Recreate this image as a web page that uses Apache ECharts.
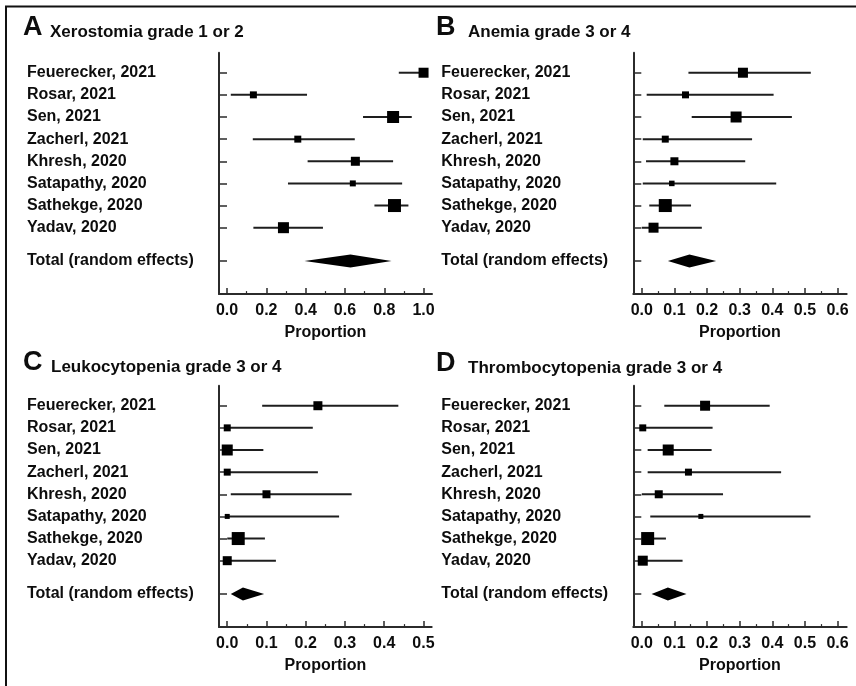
<!DOCTYPE html>
<html>
<head>
<meta charset="utf-8">
<script src="https://cdn.jsdelivr.net/npm/echarts@6/dist/echarts.min.js"></script>
<style>
html,body{margin:0;padding:0;background:#fff;}
#chart{width:856px;height:686px;}
</style>
</head>
<body>
<div id="chart"></div>
<script>
// ---- data ----
const studies = ["Feuerecker, 2021","Rosar, 2021","Sen, 2021","Zacherl, 2021","Khresh, 2020","Satapathy, 2020","Sathekge, 2020","Yadav, 2020"];
const totalLabel = "Total (random effects)";

const panelLetters = ["A","B","C","D"];
const panelTitles = ["Xerostomia grade 1 or 2","Anemia grade 3 or 4","Leukocytopenia grade 3 or 4","Thrombocytopenia grade 3 or 4"];

// A: Xerostomia grade 1 or 2
const xeroEst = [1.0, 0.134, 0.845, 0.36, 0.653, 0.64, 0.852, 0.287];
const xeroLo  = [0.874, 0.019, 0.692, 0.131, 0.41, 0.31, 0.75, 0.134];
const xeroHi  = [1.0, 0.407, 0.94, 0.65, 0.845, 0.891, 0.923, 0.488];
const xeroWeight = [14.8, 7.2, 21.3, 7.2, 12.0, 5.3, 25.0, 17.9];
const xeroTotal = [0.628, 0.394, 0.837];

// B: Anemia grade 3 or 4
const anemEst = [0.31, 0.134, 0.289, 0.072, 0.1, 0.092, 0.072, 0.036];
const anemLo  = [0.143, 0.015, 0.153, 0.003, 0.013, 0.003, 0.023, 0.0];
const anemHi  = [0.518, 0.404, 0.46, 0.338, 0.317, 0.412, 0.151, 0.184];
const anemWeight = [14.8, 7.2, 17.9, 7.2, 9.5, 4.5, 25.0, 14.8];
const anemTotal = [0.146, 0.08, 0.228];

// C: Leukocytopenia grade 3 or 4
const leukEst = [0.231, 0.0, 0.0, 0.0, 0.1, 0.0, 0.028, 0.0];
const leukLo  = [0.089, 0.0, 0.0, 0.0, 0.009, 0.0, 0.0, 0.0];
const leukHi  = [0.436, 0.218, 0.092, 0.231, 0.317, 0.285, 0.096, 0.124];
const leukWeight = [12.0, 7.2, 17.9, 7.2, 9.5, 3.7, 25.0, 12.0];
const leukTotal = [0.04, 0.009, 0.094];

// D: Thrombocytopenia grade 3 or 4
const thromEst = [0.194, 0.003, 0.081, 0.143, 0.052, 0.181, 0.018, 0.003];
const thromLo  = [0.069, 0.0, 0.018, 0.018, 0.0, 0.026, 0.0, 0.0];
const thromHi  = [0.392, 0.217, 0.214, 0.427, 0.249, 0.517, 0.074, 0.125];
const thromWeight = [14.8, 7.2, 17.9, 7.2, 9.5, 3.7, 25.0, 14.8];
const thromTotal = [0.08, 0.03, 0.137];

// tick labels
const ticksA = [0.0, 0.2, 0.4, 0.6, 0.8, 1.0];
const minorA = [0.1, 0.3, 0.5, 0.7, 0.9];
const ticksBD = [0.0, 0.1, 0.2, 0.3, 0.4, 0.5, 0.6];
const minorBD = [0.05, 0.15, 0.25, 0.35, 0.45, 0.55];
const ticksC = [0.0, 0.1, 0.2, 0.3, 0.4, 0.5];
const minorC = [0.05, 0.15, 0.25, 0.35, 0.45];

const rowValues = [0, 1, 2, 3, 4, 5, 6, 7, 8.5];

// ---- layout ----
const FONT = "'Liberation Sans', Arial, sans-serif";
const panels = [
  {est: xeroEst, lo: xeroLo, hi: xeroHi, w: xeroWeight, total: xeroTotal, ticks: ticksA, minor: minorA, min: -0.041, max: 1.043,
   grid: {left: 219, top: 52.8, width: 213, height: 241.3}},
  {est: anemEst, lo: anemLo, hi: anemHi, w: anemWeight, total: anemTotal, ticks: ticksBD, minor: minorBD, min: -0.026, max: 0.628,
   grid: {left: 633.3, top: 52.8, width: 213.4, height: 241.3}},
  {est: leukEst, lo: leukLo, hi: leukHi, w: leukWeight, total: leukTotal, ticks: ticksC, minor: minorC, min: -0.021, max: 0.521,
   grid: {left: 219, top: 385.8, width: 212.7, height: 241.3}},
  {est: thromEst, lo: thromLo, hi: thromHi, w: thromWeight, total: thromTotal, ticks: ticksBD, minor: minorBD, min: -0.026, max: 0.628,
   grid: {left: 633.3, top: 385.8, width: 213.4, height: 241.3}}
];

const grids = [], xAxes = [], yAxes = [], series = [];
const AXIS_COLOR = '#2b2b2b';

panels.forEach((p, i) => {
  grids.push(Object.assign({containLabel: false}, p.grid));
  // main x axis
  xAxes.push({
    type: 'value', gridIndex: i, min: p.min, max: p.max, position: 'bottom',
    axisLine: {show: true, onZero: false, lineStyle: {color: AXIS_COLOR, width: 2}},
    axisTick: {show: true, inside: true, length: 6, customValues: p.ticks, lineStyle: {color: AXIS_COLOR, width: 1.5}},
    axisLabel: {show: true, customValues: p.ticks, margin: 8, formatter: v => v.toFixed(1),
      fontFamily: FONT, fontWeight: 'bold', fontSize: 16, color: '#0d0d0d'},
    splitLine: {show: false},
    name: 'Proportion', nameLocation: 'middle', nameGap: 30,
    nameTextStyle: {fontFamily: FONT, fontWeight: 'bold', fontSize: 16, color: '#0d0d0d'}
  });
  // minor ticks axis
  xAxes.push({
    type: 'value', gridIndex: i, min: p.min, max: p.max, position: 'bottom',
    axisLine: {show: false, onZero: false},
    axisTick: {show: true, inside: true, length: 3, customValues: p.minor, lineStyle: {color: AXIS_COLOR, width: 1.2}},
    axisLabel: {show: false},
    splitLine: {show: false}
  });
  yAxes.push({
    type: 'value', gridIndex: i, inverse: true, min: -0.9, max: 10,
    axisLine: {show: true, onZero: false, lineStyle: {color: AXIS_COLOR, width: 2}},
    axisTick: {show: true, inside: true, length: 8, customValues: rowValues, lineStyle: {color: AXIS_COLOR, width: 1.5}},
    axisLabel: {show: true, customValues: rowValues, align: 'left', margin: 192,
      formatter: v => (v === 8.5 ? totalLabel : studies[Math.round(v)]),
      fontFamily: FONT, fontWeight: 'bold', fontSize: 16, color: '#0d0d0d'},
    splitLine: {show: false}
  });

  const studyData = studies.map((s, k) => [k, p.est[k], p.lo[k], p.hi[k], p.w[k]]);
  series.push({
    type: 'custom', xAxisIndex: 2 * i, yAxisIndex: i,
    encode: {x: 1, y: 0},
    data: studyData,
    clip: false,
    renderItem: function (params, api) {
      const row = api.value(0);
      const c = api.coord([api.value(1), row]);
      const lo = api.coord([api.value(2), row]);
      const hi = api.coord([api.value(3), row]);
      const s = 2.6 * Math.sqrt(api.value(4));
      return {
        type: 'group',
        children: [
          {type: 'line', shape: {x1: lo[0], y1: lo[1], x2: hi[0], y2: hi[1]},
           style: {stroke: '#1e1e1e', lineWidth: 2}},
          {type: 'rect', shape: {x: c[0] - s / 2, y: c[1] - s / 2, width: s, height: s},
           style: {fill: '#000'}}
        ]
      };
    }
  });
  series.push({
    type: 'custom', xAxisIndex: 2 * i, yAxisIndex: i,
    encode: {x: 1, y: 0},
    data: [[8.5, p.total[0], p.total[1], p.total[2]]],
    clip: false,
    renderItem: function (params, api) {
      const row = api.value(0);
      const c = api.coord([api.value(1), row]);
      const lo = api.coord([api.value(2), row]);
      const hi = api.coord([api.value(3), row]);
      const h = 6.5;
      return {
        type: 'polygon',
        shape: {points: [[lo[0], lo[1]], [c[0], c[1] - h], [hi[0], hi[1]], [c[0], c[1] + h]]},
        style: {fill: '#000'}
      };
    }
  });
});

// titles
const titlePos = [
  {lx: 23, tx: 50, y: 41},
  {lx: 436, tx: 468, y: 41},
  {lx: 23, tx: 51, y: 376},
  {lx: 436, tx: 468, y: 377}
];
const graphics = [
  {type: 'rect', shape: {x: 6, y: 6.5, width: 900, height: 800}, style: {fill: 'none', stroke: '#111', lineWidth: 2}, z: 10}
];
titlePos.forEach((t, i) => {
  graphics.push({type: 'text', x: t.lx, y: t.y, style: {text: panelLetters[i], font: 'bold 27px ' + FONT, fill: '#0d0d0d', textVerticalAlign: 'bottom'}});
  graphics.push({type: 'text', x: t.tx, y: t.y, style: {text: panelTitles[i], font: 'bold 17px ' + FONT, fill: '#0d0d0d', textVerticalAlign: 'bottom'}});
});

const chart = echarts.init(document.getElementById('chart'), null, {renderer: 'canvas'});
chart.setOption({
  animation: false,
  backgroundColor: '#fff',
  grid: grids,
  xAxis: xAxes,
  yAxis: yAxes,
  series: series,
  graphic: graphics
});
</script>
</body>
</html>
